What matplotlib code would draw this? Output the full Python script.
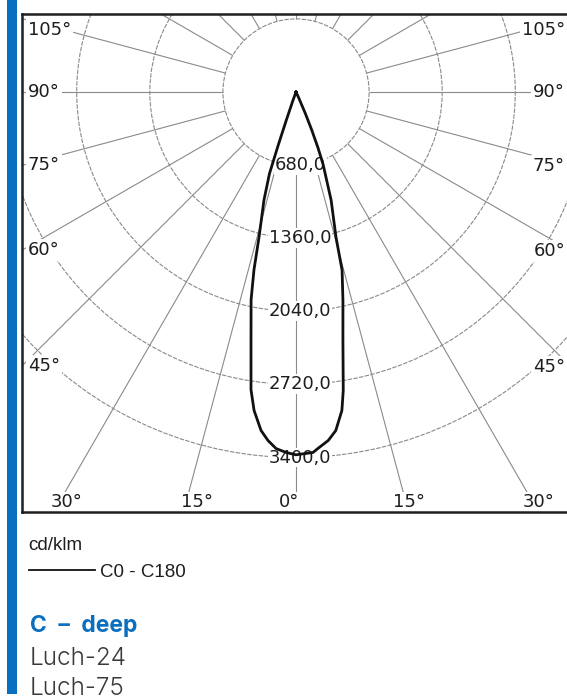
import numpy as np
import matplotlib
matplotlib.use("Agg")
import matplotlib.pyplot as plt
from matplotlib.patches import Circle, Rectangle
from matplotlib.lines import Line2D

# ---------------- data ----------------
ring_values = [680.0, 1360.0, 2040.0, 2720.0, 3400.0]
ring_labels = ["680,0", "1360,0", "2040,0", "2720,0", "3400,0"]
spoke_angles = list(range(0, 360, 15))
edge_label_angles = [0, 15, 30, 45, 60, 75, 90, 105]

# C180 half (drawn to the left), angle from nadir in degrees, cd/klm
angles_c180 = [0.0, 1.6, 3.2, 4.6, 5.9, 7.5, 8.6, 10.3, 12.2, 13.3, 14.3,
               16.5, 18.0, 18.5, 19.0, 20.0, 22.0, 90.0]
intens_c180 = [3375, 3354, 3322, 3252, 3165, 2988, 2800, 2341, 1977, 1699, 1391,
               1049, 800, 520, 270, 80, 0, 0]
# C0 half (drawn to the right)
angles_c0 = [0.0, 2.7, 3.5, 5.3, 6.7, 8.2, 9.0, 10.7, 12.7, 14.5, 15.4,
             18.0, 20.5, 21.5, 22.5, 23.5, 25.0, 27.0, 90.0]
intens_c0 = [3375, 3357, 3323, 3255, 3171, 2993, 2810, 2351, 1986, 1712, 1401,
             1057, 720, 560, 380, 220, 60, 0, 0]

unit_label = "cd/klm"
legend_label = "C0 - C180"
title_text = "C\u2002\u2013\u2002deep"
subtitle_lines = ["Luch-24", "Luch-75"]

# ---------------- layout ----------------
W, H = 567, 700
L, R, T, B = 22, 571, 14, 512          # frame in pixels
CX, CY = 296, 92                       # pole position in pixels
S = 73.1 / 680.0                        # pixels per cd/klm
GRID = "#8a8a8a"
INK = "#1e1e1e"
BLUE = "#0b6fbf"
FONT = "DejaVu Sans"

fig = plt.figure(figsize=(W / 100, H / 100), dpi=100)
fig.patch.set_facecolor("white")


def fx(x):
    return x / W


def fy(y):
    return 1 - y / H


ax = fig.add_axes([fx(L), fy(B), (R - L) / W, (B - T) / H])
xmin, xmax = (L - CX) / S, (R - CX) / S
ymin, ymax = -(B - CY) / S, (CY - T) / S
ax.set_xlim(xmin, xmax)
ax.set_ylim(ymin, ymax)
ax.set_xticks([])
ax.set_yticks([])
for side, sp in ax.spines.items():
    sp.set_color(INK)
    sp.set_linewidth(1.8)

# rings
for v in ring_values:
    ax.add_patch(Circle((0, 0), v, fill=False, ec=GRID, lw=0.8,
                        ls=(0, (4, 1.2)), zorder=1))

# spokes, starting at the first ring
r0 = ring_values[0]
r1 = 10000.0
for a in spoke_angles:
    th = np.radians(a)
    ax.plot([r0 * np.sin(th), r1 * np.sin(th)],
            [-r0 * np.cos(th), -r1 * np.cos(th)],
            color=GRID, lw=0.8, zorder=1, solid_capstyle="butt")

# ring labels
for v, lab in zip(ring_values, ring_labels):
    ax.annotate(lab, xy=(0, -v), xytext=(3, 0), textcoords="offset points",
                ha="center", va="center", fontsize=13, family=FONT, color=INK,
                bbox=dict(fc="white", ec="none", pad=0.6), zorder=2)

# angle labels along the frame
top_clamp = ymax - 16 / S
for a in edge_label_angles:
    sides = [0] if a == 0 else [-1, 1]
    for sd in sides:
        th = np.radians(a)
        dx = sd * np.sin(th)
        dy = -np.cos(th)
        tx = np.inf
        if dx > 1e-9:
            tx = xmax / dx
        elif dx < -1e-9:
            tx = xmin / dx
        ty = ymin / dy if dy < -1e-9 else (ymax / dy if dy > 1e-9 else np.inf)
        lab = f"{a}\u00b0"
        if ty <= tx:   # bottom edge
            px, py = ty * dx, ty * dy
            ha = "right" if sd == 0 else ("left" if sd < 0 else "center")
            off = (2, 3.4) if sd == 0 else ((-2, 3.4) if sd < 0 else (0, 3.4))
            ax.annotate(lab, xy=(px, py), xytext=off, textcoords="offset points",
                        ha=ha, va="baseline", fontsize=13, family=FONT, color=INK,
                        bbox=dict(fc="white", ec="none", pad=1.0), zorder=2)
        else:          # side edge
            px, py = tx * dx, tx * dy
            py = min(py, top_clamp)
            if sd < 0:
                ax.annotate(lab, xy=(px, py), xytext=(4.3, 0),
                            textcoords="offset points", ha="left", va="center",
                            fontsize=13, family=FONT, color=INK,
                            bbox=dict(fc="white", ec="none", pad=1.5), zorder=2)
            else:
                ax.annotate(lab, xy=(px, py), xytext=(-4.3, 0),
                            textcoords="offset points", ha="right", va="center",
                            fontsize=13, family=FONT, color=INK,
                            bbox=dict(fc="white", ec="none", pad=1.5), zorder=2)

# photometric curve C0 - C180
a180 = np.radians(np.array(angles_c180))
i180 = np.array(intens_c180, dtype=float)
a0 = np.radians(np.array(angles_c0))
i0 = np.array(intens_c0, dtype=float)
xs = np.concatenate([(-i180 * np.sin(a180))[::-1], i0 * np.sin(a0)])
ys = np.concatenate([(-i180 * np.cos(a180))[::-1], -i0 * np.cos(a0)])
ax.plot(xs, ys, color="#111111", lw=2.0, zorder=3, solid_joinstyle="round")

# ---------------- decorations outside the frame ----------------
fig.add_artist(Rectangle((fx(7), fy(694)), 10 / W, 694 / H,
                         transform=fig.transFigure, color=BLUE, lw=0))

fig.text(fx(28), fy(550), unit_label, fontsize=13.5, family="Liberation Sans",
         color=INK, ha="left", va="baseline")
fig.add_artist(Line2D([fx(29), fx(95)], [fy(570), fy(570)],
                      transform=fig.transFigure, color="#111111", lw=1.3))
fig.text(fx(100), fy(577), legend_label, fontsize=13.5, family="Liberation Sans",
         color=INK, ha="left", va="baseline")

fig.text(fx(30), fy(632), title_text, fontsize=16.5, family="Inter",
         fontweight="bold", color=BLUE, ha="left", va="baseline")
for k, s in enumerate(subtitle_lines):
    fig.text(fx(30), fy(665 + 30 * k), s, fontsize=17.5, family="Inter",
             fontweight=300, color="#3a3a3a", ha="left", va="baseline")

fig.savefig("out.png", dpi=100, facecolor="white")
